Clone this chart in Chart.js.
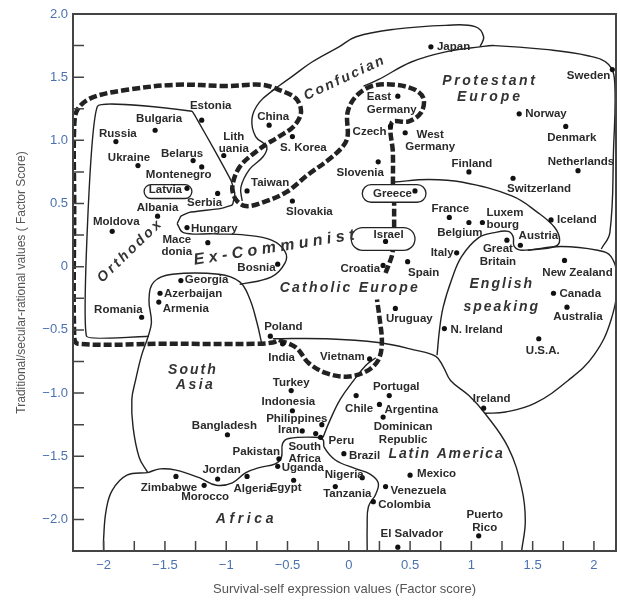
<!DOCTYPE html>
<html>
<head>
<meta charset="utf-8">
<script src="https://cdn.jsdelivr.net/npm/chart.js@4/dist/chart.umd.min.js"></script>
<style>
  html, body { margin: 0; padding: 0; background: #fff; }
  #wrap { width: 620px; height: 600px; }
</style>
</head>
<body>
<div id="wrap"><canvas id="js--chart"></canvas></div>
<script>
// countries and their factor scores
const countries = ["Japan", "Sweden", "East\nGermany", "Norway", "Denmark", "Czech", "West\nGermany", "Slovenia", "Finland", "Netherlands", "Switzerland", "Greece",
    "Estonia", "Bulgaria", "Russia", "Ukraine", "Belarus", "Montenegro", "Lith\nuania", "China", "S. Korea", "Taiwan", "Latvia", "Serbia", "Albania", "Slovakia",
    "Moldova", "Hungary", "Mace\ndonia", "Bosnia", "Georgia", "Azerbaijan", "Armenia", "Romania", "Poland", "India",
    "France", "Belgium", "Luxem\nbourg", "Iceland", "Israel", "Great\nBritain", "Austria", "Italy", "Spain", "Croatia", "New Zealand", "Canada", "Australia",
    "Uruguay", "N. Ireland", "U.S.A.", "Vietnam", "Turkey", "Indonesia", "Philippines", "Iran", "Bangladesh", "South\nAfrica", "Peru", "Pakistan", "Uganda",
    "Zimbabwe", "Jordan", "Morocco", "Algeria", "Egypt", "Tanzania", "Nigeria", "Portugal", "Chile", "Argentina", "Dominican\nRepublic", "Ireland",
    "Brazil", "Mexico", "Venezuela", "Colombia", "Puerto\nRico", "El Salvador"];
const survivalValues = [0.67, 2.15, 0.40, 1.39, 1.77, 0.34, 0.46, 0.24, 0.98, 1.87, 1.34, 0.54,
    -1.20, -1.58, -1.90, -1.72, -1.27, -1.20, -1.02, -0.65, -0.46, -0.83, -1.32, -1.07, -1.56, -0.46,
    -1.93, -1.32, -1.15, -0.58, -1.37, -1.54, -1.55, -1.69, -0.64, -0.54,
    0.82, 0.98, 1.09, 1.65, 0.30, 1.29, 1.40, 0.88, 0.48, 0.28, 1.76, 1.67, 1.78,
    0.38, 0.78, 1.55, 0.17, -0.47, -0.46, -0.22, -0.38, -0.99, -0.27, -0.23, -0.57, -0.58,
    -1.41, -1.07, -1.18, -0.83, -0.45, -0.11, 0.11, 0.33, 0.06, 0.25, 0.28, 1.10,
    -0.04, 0.50, 0.30, 0.20, 1.06, 0.40];
const traditionalValues = [1.74, 1.56, 1.35, 1.21, 1.11, 1.11, 1.06, 0.83, 0.75, 0.76, 0.70, 0.60,
    1.16, 1.08, 0.99, 0.80, 0.84, 0.79, 0.88, 1.12, 1.03, 0.60, 0.62, 0.58, 0.40, 0.52,
    0.28, 0.31, 0.19, 0.02, -0.11, -0.21, -0.28, -0.40, -0.55, -0.61,
    0.39, 0.35, 0.35, 0.37, 0.20, 0.21, 0.17, 0.11, 0.04, 0.01, 0.05, -0.21, -0.32,
    -0.33, -0.49, -0.57, -0.73, -0.98, -1.14, -1.25, -1.30, -1.33, -1.32, -1.35, -1.52, -1.58,
    -1.66, -1.68, -1.73, -1.66, -1.69, -1.74, -1.67, -1.02, -1.02, -1.09, -1.19, -1.12,
    -1.48, -1.65, -1.74, -1.86, -2.13, -2.22];

// tick values
const xTickLabels = [-2, -1.5, -1, -0.5, 0, 0.5, 1, 1.5, 2];
const yTickLabels = [2.0, 1.5, 1.0, 0.5, 0, -0.5, -1.0, -1.5, -2.0];

// zone boundaries (factor score units), null = gap
const exCommunistLine = [[-0.57, -0.58], [-0.43, -0.64], [-0.33, -0.76], [-0.19, -0.84], [-0.02, -0.87], [0.14, -0.83], [0.24, -0.74], [0.27, -0.60], [0.25, -0.40], [0.23, -0.26], null,
    [0.30, -0.05], [0.35, 0.08], [0.36, 0.13], null,
    [0.37, 0.31], [0.37, 0.51], null,
    [0.36, 0.65], [0.36, 0.90], [0.35, 1.14], [0.49, 1.15], [0.59, 1.22], [0.61, 1.33], [0.54, 1.40], [0.38, 1.44], [0.19, 1.43], [0.06, 1.35], [-0.01, 1.22], [-0.01, 1.03],
    [-0.05, 0.95], [-0.16, 0.85], [-0.33, 0.73], [-0.51, 0.59], [-0.70, 0.51], [-0.84, 0.48], [-0.92, 0.53], [-0.95, 0.63], [-0.89, 0.79], [-0.73, 0.93], [-0.57, 1.03],
    [-0.45, 1.11], [-0.39, 1.22], [-0.43, 1.33], [-0.57, 1.40], [-0.71, 1.44], [-1.0, 1.43], [-1.41, 1.44], [-1.81, 1.40], [-2.09, 1.34], [-2.21, 1.25], [-2.24, 1.11],
    [-2.24, 0.5], [-2.24, -0.55], [-2.21, -0.61], [-1.5, -0.61], [-0.75, -0.61], [-0.62, -0.60], [-0.57, -0.58]];
const orthodoxLine = [[-1.63, -0.55], [-2.14, -0.55], [-2.05, 1.27], [-1.28, 1.23], [-1.24, 1.17], [-1.10, 0.93], [-0.96, 0.68], [-0.93, 0.58], [-0.95, 0.49], [-1.05, 0.46], [-1.30, 0.43], [-1.37, 0.40], [-1.40, 0.34]];
const hungaryLine = [[-1.40, 0.34], [-1.35, 0.27], [-1.1, 0.26], [-0.84, 0.25], [-0.63, 0.21], [-0.52, 0.12], [-0.52, 0.03], [-0.63, -0.08], [-0.89, -0.14]];
const southAsiaLine = [[-0.71, -0.61], [-0.75, -0.44], [-0.81, -0.25], [-0.89, -0.12], [-1.06, -0.06], [-1.44, -0.06], [-1.59, -0.12], [-1.63, -0.26], [-1.61, -0.44], [-1.64, -0.56],
    [-1.69, -0.70], [-1.74, -0.90], [-1.77, -1.05], [-1.76, -1.27], [-1.71, -1.51], [-1.64, -1.63]];
const africaTopLine = [[-1.64, -1.63], [-1.54, -1.60], [-1.41, -1.61], [-1.22, -1.67], [-1.08, -1.73], [-0.95, -1.71], [-0.84, -1.63], [-0.73, -1.59], [-0.60, -1.56], [-0.55, -1.51],
    [-0.54, -1.40], [-0.49, -1.36], [-0.27, -1.35], [-0.21, -1.37], [-0.20, -1.43], [-0.11, -1.53], [0.06, -1.60], [0.17, -1.64], [0.24, -1.71], [0.22, -1.80], [0.16, -1.90], [0.15, -2.05], [0.15, -2.25]];
const africaLeftLine = [[-1.64, -1.63], [-1.81, -1.65], [-1.93, -1.77], [-1.98, -1.93], [-2.0, -2.15], [-2.0, -2.25]];
const latinAsiaLine = [[-0.21, -1.35], [-0.16, -1.23], [-0.07, -1.05], [0.04, -0.90], [0.14, -0.78], [0.22, -0.72]];
const latinRightLine = [[-0.62, -0.57], [-0.2, -0.57], [0.24, -0.60], [0.54, -0.66], [0.71, -0.71], [0.77, -0.79], [0.83, -0.90], [0.98, -1.02], [1.11, -1.16], [1.30, -1.43], [1.41, -1.75], [1.44, -2.01], [1.41, -2.25]];
const englishLine = [[0.72, -0.70], [0.74, -0.50], [0.77, -0.32], [0.84, -0.10], [0.92, 0.08], [1.06, 0.23], [1.19, 0.27], [1.30, 0.28], [1.34, 0.24], [1.35, 0.16], [1.41, 0.13], [1.73, 0.16],
    [2.03, 0.13], [2.14, 0.08], [2.19, -0.10], [2.14, -0.42], [2.0, -0.70], [1.79, -0.90], [1.52, -1.08], [1.28, -1.15], [1.11, -1.16]];
const protestantBottomLine = [[0.37, 0.67], [0.65, 0.69], [0.92, 0.67], [1.33, 0.56], [1.54, 0.43], [1.68, 0.31], [1.72, 0.21], [1.68, 0.16], [1.46, 0.13]];
const protestantTopLine = [[0.12, 1.43], [0.24, 1.48], [0.51, 1.62], [0.79, 1.70], [1.07, 1.74], [1.19, 1.75], [1.60, 1.72], [1.95, 1.67], [2.12, 1.60], [2.17, 1.45], [2.16, 0.93], [2.13, 0.27], [2.06, 0.14]];
const confucianLine = [[-0.63, 1.39], [-0.47, 1.50], [-0.30, 1.62], [-0.08, 1.74], [0.06, 1.82], [0.38, 1.88], [0.79, 1.91], [1.03, 1.90], [1.10, 1.82], [1.07, 1.74]];
const chinaLine = [[-0.60, 1.41], [-0.73, 1.30], [-0.79, 1.17], [-0.76, 1.03], [-0.67, 0.95], [-0.70, 0.87], [-0.81, 0.77], [-0.88, 0.63], [-0.87, 0.52]];

// small ovals round some labels: [xMin, xMax, yMin, yMax]
const ovals = [[-1.67, -1.28, 0.54, 0.65], [0.11, 0.63, 0.51, 0.65], [0.02, 0.54, 0.13, 0.31]];

// zone names
const zoneNames = ["Confucian", "Protestant", "Europe", "Orthodox", "Ex-Communist", "Catholic Europe", "English", "speaking", "South", "Asia", "Latin America", "Africa"];
const zoneX = [-0.04, 1.14, 1.14, -1.79, -0.61, 0.0, 1.24, 1.24, -1.28, -1.26, 0.79, -0.85];
const zoneY = [1.49, 1.47, 1.34, 0.12, 0.15, -0.17, -0.14, -0.32, -0.82, -0.94, -1.48, -2.0];

// label placement next to each dot: [align, dx, dy] in px
const labelSpots = {
    "Japan": ["left", 6, 0], "Sweden": ["right", -2, 6], "East\nGermany": ["left", -31, 1], "Norway": ["left", 6, 0], "Denmark": ["center", 6, 11],
    "Czech": ["right", -4, 5], "West\nGermany": ["center", 25, 2], "Slovenia": ["center", -18, 11], "Finland": ["center", 3, -8], "Netherlands": ["center", 3, -9],
    "Switzerland": ["center", 26, 11], "Greece": ["right", -3, 3], "Estonia": ["center", 9, -14], "Bulgaria": ["center", 4, -11], "Russia": ["center", 2, -8],
    "Ukraine": ["center", -9, -8], "Belarus": ["center", -11, -7], "Montenegro": ["center", -23, 8], "Lith\nuania": ["center", 10, -19], "China": ["center", 4, -8],
    "S. Korea": ["center", 11, 11], "Taiwan": ["left", 4, -8], "Latvia": ["right", -5, 1], "Serbia": ["center", -13, 9], "Albania": ["center", 0, -8],
    "Slovakia": ["center", 17, 11], "Moldova": ["center", 4, -9], "Hungary": ["left", 4, 1], "Mace\ndonia": ["center", -31, -3], "Bosnia": ["right", -2, 4],
    "Georgia": ["left", 4, -1], "Azerbaijan": ["left", 4, 1], "Armenia": ["left", 4, 7], "Romania": ["right", 1, -7], "Poland": ["center", 13, -9],
    "India": ["center", -1, 14], "France": ["center", 1, -9], "Belgium": ["center", -9, 10], "Luxem\nbourg": ["left", 4, -10], "Iceland": ["left", 6, 0],
    "Israel": ["center", 3, -7], "Great\nBritain": ["center", -9, 9], "Austria": ["center", 18, -9], "Italy": ["right", -3, 0], "Spain": ["center", 16, 11],
    "Croatia": ["right", -3, 3], "New Zealand": ["center", 13, 12], "Canada": ["left", 6, 1], "Australia": ["center", 11, 10], "Uruguay": ["center", 14, 10],
    "N. Ireland": ["left", 6, 1], "U.S.A.": ["center", 4, 12], "Vietnam": ["right", -5, -2], "Turkey": ["center", 0, -8], "Indonesia": ["center", -4, -9],
    "Philippines": ["center", -25, -6], "Iran": ["right", -3, -1], "Bangladesh": ["center", -3, -9], "South\nAfrica": ["center", -11, 13], "Peru": ["left", 8, 4],
    "Pakistan": ["right", 1, -7], "Uganda": ["left", 4, 1], "Zimbabwe": ["center", -7, 11], "Jordan": ["center", 4, -9], "Morocco": ["center", 1, 12],
    "Algeria": ["center", 6, 12], "Egypt": ["center", -8, 8], "Tanzania": ["center", 12, 7], "Nigeria": ["center", -18, -3], "Portugal": ["center", 7, -9],
    "Chile": ["center", 3, 13], "Argentina": ["left", 5, 5], "Dominican\nRepublic": ["center", 20, 10], "Ireland": ["center", 8, -9], "Brazil": ["left", 5, 2],
    "Mexico": ["left", 7, -1], "Venezuela": ["left", 5, 4], "Colombia": ["left", 5, 3], "Puerto\nRico": ["center", 6, -21], "El Salvador": ["center", 14, -13]
};
const zoneStyle = {
    "Confucian": [-25, 2.3], "Protestant": [0, 2.6], "Europe": [0, 3], "Orthodox": [-44, 2.8], "Ex-Communist": [-9, 4.5, 16],
    "Catholic Europe": [0, 2.2], "English": [0, 2], "speaking": [0, 2], "South": [0, 2], "Asia": [0, 2.5], "Latin America": [0, 1.8], "Africa": [0, 3.6]
};

const FONT = "'Liberation Sans', Arial, sans-serif";

function toPoints(list) {
    return list.map(function (p) {
        return p === null ? { x: NaN, y: NaN } : { x: p[0], y: p[1] };
    });
}

function boundary(list, dashed, tension) {
    return {
        data: toPoints(list),
        showLine: true,
        borderColor: "#222",
        borderWidth: dashed ? 4.5 : 1.4,
        borderDash: dashed ? [8, 3] : [],
        borderCapStyle: "butt",
        tension: tension,
        spanGaps: false,
        pointRadius: 0,
        fill: false
    };
}

const countryPoints = countries.map(function (name, i) {
    return { x: survivalValues[i], y: traditionalValues[i] };
});

function isHalf(v) {
    return Math.abs(v * 2 - Math.round(v * 2)) < 1e-6;
}
function isQuarter(v) {
    return Math.abs(v * 4 - Math.round(v * 4)) < 1e-6;
}

const textPlugin = {
    id: "textPlugin",
    afterDatasetsDraw: function (chart) {
        const ctx = chart.ctx;
        const xs = chart.scales.x;
        const ys = chart.scales.y;
        ctx.save();

        // ovals
        ctx.strokeStyle = "#222";
        ctx.lineWidth = 1.3;
        ovals.forEach(function (o) {
            const x1 = xs.getPixelForValue(o[0]);
            const x2 = xs.getPixelForValue(o[1]);
            const y1 = ys.getPixelForValue(o[3]);
            const y2 = ys.getPixelForValue(o[2]);
            ctx.beginPath();
            ctx.roundRect(x1, y1, x2 - x1, y2 - y1, (y2 - y1) / 2);
            ctx.stroke();
        });

        // country labels
        ctx.fillStyle = "#2a2a2a";
        ctx.font = "bold 11.5px " + FONT;
        ctx.textBaseline = "middle";
        countries.forEach(function (name, i) {
            const spot = labelSpots[name];
            const px = xs.getPixelForValue(survivalValues[i]) + spot[1];
            const py = ys.getPixelForValue(traditionalValues[i]) + spot[2];
            ctx.textAlign = spot[0];
            name.split("\n").forEach(function (line, k) {
                ctx.fillText(line, px, py + k * 12.5);
            });
        });

        // zone names
        ctx.fillStyle = "#333";
        ctx.textAlign = "center";
        zoneNames.forEach(function (name, i) {
            const st = zoneStyle[name];
            ctx.save();
            ctx.translate(xs.getPixelForValue(zoneX[i]), ys.getPixelForValue(zoneY[i]));
            ctx.rotate(st[0] * Math.PI / 180);
            ctx.font = "italic bold " + (st[2] || 14) + "px " + FONT;
            ctx.letterSpacing = st[1] + "px";
            ctx.fillText(name, st[1] / 2, 0);
            ctx.restore();
        });
        ctx.restore();
    },
    afterDraw: function (chart) {
        const ctx = chart.ctx;
        const area = chart.chartArea;
        const xs = chart.scales.x;
        const ys = chart.scales.y;
        ctx.save();
        ctx.strokeStyle = "#444";
        ctx.lineWidth = 2;
        ctx.strokeRect(area.left, area.top, area.right - area.left, area.bottom - area.top);
        ctx.lineWidth = 1.5;
        ctx.beginPath();
        xs.ticks.forEach(function (t) {
            if (!isQuarter(t.value)) return;
            const px = xs.getPixelForValue(t.value);
            ctx.moveTo(px, area.bottom);
            ctx.lineTo(px, area.bottom - 10);
        });
        ys.ticks.forEach(function (t) {
            if (!isQuarter(t.value)) return;
            const py = ys.getPixelForValue(t.value);
            ctx.moveTo(area.left, py);
            ctx.lineTo(area.left + 11, py);
        });
        ctx.stroke();
        ctx.restore();
    }
};

function tickText(v, fixed) {
    if (!isHalf(v)) return "";
    let s;
    if (Math.abs(v) < 1e-9) s = "0";
    else if (fixed) s = v.toFixed(1);
    else s = String(v);
    return s.replace("-", "\u2212");
}

new Chart(document.getElementById("js--chart"), {
    type: "scatter",
    data: {
        datasets: [
            {
                data: countryPoints,
                pointRadius: 2.6,
                pointBackgroundColor: "#111",
                pointBorderWidth: 0,
                showLine: false
            },
            boundary(exCommunistLine, true, 0.35),
            boundary(orthodoxLine, false, 0.1),
            boundary(hungaryLine, false, 0.4),
            boundary(southAsiaLine, false, 0.4),
            boundary(africaTopLine, false, 0.4),
            boundary(africaLeftLine, false, 0.4),
            boundary(latinAsiaLine, false, 0.4),
            boundary(latinRightLine, false, 0.4),
            boundary(englishLine, false, 0.4),
            boundary(protestantBottomLine, false, 0.4),
            boundary(protestantTopLine, false, 0.4),
            boundary(confucianLine, false, 0.4),
            boundary(chinaLine, false, 0.4)
        ]
    },
    options: {
        responsive: true,
        maintainAspectRatio: false,
        animation: false,
        layout: { padding: { top: 14, right: 2, left: 0, bottom: 0 } },
        plugins: {
            legend: { display: false },
            tooltip: { enabled: false }
        },
        scales: {
            x: {
                type: "linear",
                min: -2.25,
                max: 2.18,
                grid: { drawOnChartArea: false, drawTicks: false },
                border: { display: true, color: "#444", width: 2 },
                afterBuildTicks: function (scale) {
                    const list = [];
                    for (let k = -9; k <= 8; k++) list.push({ value: k / 4 });
                    scale.ticks = list;
                },
                ticks: {
                    padding: 7,
                    autoSkip: false,
                    maxRotation: 0,
                    color: "#4a72b0",
                    font: { size: 13, family: FONT },
                    callback: function (v) {
                        return xTickLabels.indexOf(Math.round(v * 100) / 100) >= 0 ? tickText(v, false) : "";
                    }
                },
                title: {
                    display: true,
                    text: "Survival-self expression values (Factor score)",
                    color: "#555",
                    font: { size: 13, family: FONT },
                    padding: { top: 3, bottom: 3 }
                },
                afterFit: function (scale) { scale.height = 49; }
            },
            y: {
                type: "linear",
                min: -2.25,
                max: 2.0,
                grid: { drawOnChartArea: false, drawTicks: false },
                border: { display: true, color: "#444", width: 2 },
                ticks: {
                    stepSize: 0.25,
                    padding: 5,
                    autoSkip: false,
                    color: "#4a72b0",
                    font: { size: 13, family: FONT },
                    callback: function (v) {
                        return yTickLabels.indexOf(Math.round(v * 100) / 100) >= 0 ? tickText(v, true) : "";
                    }
                },
                title: {
                    display: true,
                    text: "Traditional/secular-rational values ( Factor Score)",
                    color: "#555",
                    font: { size: 12, family: FONT },
                    padding: { top: 14, bottom: 0 }
                },
                afterFit: function (scale) { scale.width = 73; }
            }
        }
    },
    plugins: [textPlugin]
});
</script>
</body>
</html>
